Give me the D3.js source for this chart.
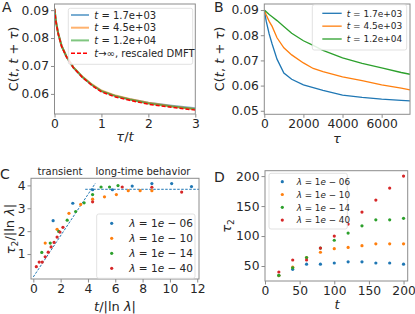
<!DOCTYPE html>
<html>
<head>
<meta charset="utf-8">
<script src="https://cdn.jsdelivr.net/npm/d3@7"></script>
<style>
  body { margin: 0; background: #fff; }
  text { font-family: "DejaVu Sans", sans-serif; fill: #262626; }
</style>
</head>
<body>
<svg id="fig" width="415" height="314"></svg>
<script>
// ---- data ----
// panel A: correlation vs tau/t
const ratioA  = [0, 0.03, 0.08, 0.15, 0.25, 0.4, 0.6, 0.8, 1.0, 1.3, 1.6, 2.0, 2.5, 3.0];
const blueA   = [0.0905, 0.0860, 0.0815, 0.0772, 0.0735, 0.0695, 0.0660, 0.0632, 0.0610, 0.0593, 0.0581, 0.0568, 0.0558, 0.0549];
const orangeA = [0.0905, 0.0860, 0.0815, 0.0773, 0.0736, 0.0696, 0.0661, 0.0634, 0.0612, 0.0594, 0.0582, 0.0568, 0.0556, 0.0546];
const greenA  = [0.0905, 0.0861, 0.0816, 0.0773, 0.0735, 0.0695, 0.0660, 0.0632, 0.0610, 0.0592, 0.0580, 0.0566, 0.0555, 0.0545];
const dmftA   = [0.0905, 0.0859, 0.0814, 0.0771, 0.0734, 0.0694, 0.0658, 0.0630, 0.0607, 0.0589, 0.0577, 0.0563, 0.0552, 0.0542];
const legendA = ["1.7e+03", "4.5e+03", "1.2e+04"];

// panel B: correlation vs tau
const tauB    = [0, 100, 250, 400, 650, 1000, 1400, 2000, 2500, 3000, 4000, 5000, 6000, 7000, 7450];
const blueB   = [0.0900, 0.0855, 0.0805, 0.0765, 0.0705, 0.0650, 0.0625, 0.0603, 0.0592, 0.0581, 0.0562, 0.0553, 0.0546, 0.0541, 0.0539];
const orangeB = [0.0900, 0.0880, 0.0855, 0.0835, 0.0790, 0.0750, 0.0722, 0.0690, 0.0668, 0.0655, 0.0635, 0.0620, 0.0603, 0.0590, 0.0583];
const greenB  = [0.0900, 0.0893, 0.0882, 0.0873, 0.0858, 0.0835, 0.0808, 0.0778, 0.0760, 0.0740, 0.0710, 0.0688, 0.0670, 0.0652, 0.0645];

// panel C: rescaled tau_2
const lambdas = ["06", "10", "14", "40"];
const cX06 = [1.45, 2.89, 4.34, 5.79, 7.24, 8.68, 10.13, 11.58];
const cY06 = [2.46, 3.22, 3.81, 3.81, 3.97, 4.08, 4.08, 3.95];
const cX10 = [0.87, 1.74, 2.61, 3.47, 4.34, 5.21, 6.08, 6.95, 7.82, 8.68];
const cY10 = [1.48, 2.08, 2.78, 3.17, 3.40, 3.50, 3.60, 3.77, 3.77, 3.77];
const cX14 = [0.62, 1.24, 1.86, 2.48, 3.10, 3.72, 4.34, 4.96, 5.58, 6.20];
const cY14 = [1.07, 1.48, 1.99, 2.48, 2.86, 3.24, 3.60, 3.93, 3.93, 3.99];
const cX40 = [0.22, 0.43, 0.65, 0.87, 1.09, 1.30, 1.52, 1.74, 1.95, 2.17, 4.34, 6.51, 8.68, 10.86];
const cY40 = [0.45, 0.65, 0.65, 0.88, 1.08, 1.31, 1.51, 1.74, 1.96, 2.17, 3.28, 3.93, 3.92, 3.71];
const transientLine = [[0, 0], [4.55, 4.1]];
const plateauLine   = [[3.8, 3.83], [12.2, 3.83]];

// panel D: tau_2 vs t
const tD      = [20, 40, 60, 80, 100, 120, 140, 160, 180, 200];
const dBlue   = [34, 44.5, 53, 53, 55, 57, 57, 55, 55, 53];
const dOrange = [34, 48, 64, 73, 79, 81, 84, 87, 87, 87];
const dGreen  = [34.5, 47, 64, 80, 93, 105, 117, 127, 127, 129.5];
const dRed    = [40, 60, 60, 80, 100, 120, 140, 160, 180, 200];

const colors = ["#1f77b4", "#ff7f0e", "#2ca02c", "#d62728"];
const spineColor = "#8c8c8c";

var svg = d3.select("#fig");

function panel(box, xDom, yDom, xTicks, yTicks, fx, fy) {
  var x = d3.scaleLinear().domain(xDom).range([box.l, box.r]);
  var y = d3.scaleLinear().domain(yDom).range([box.b, box.t]);
  var g = svg.append("g");
  var clipId = "clip" + Math.round(box.l) + "_" + Math.round(box.t);
  svg.append("clipPath").attr("id", clipId)
    .append("rect").attr("x", box.l).attr("y", box.t)
    .attr("width", box.r - box.l).attr("height", box.b - box.t);
  var plot = g.append("g").attr("clip-path", "url(#" + clipId + ")");

  var ax = g.append("g").attr("transform", "translate(0," + box.b + ")")
    .call(d3.axisBottom(x).tickValues(xTicks).tickFormat(fx).tickSize(3.5).tickPadding(1.5));
  var ay = g.append("g").attr("transform", "translate(" + box.l + ",0)")
    .call(d3.axisLeft(y).tickValues(yTicks).tickFormat(fy).tickSize(3.5).tickPadding(2));
  [ax, ay].forEach(function(a) {
    a.select(".domain").remove();
    a.selectAll("line").attr("stroke", spineColor);
    a.selectAll("text").style("font-size", "12.3px").attr("fill", "#262626");
  });
  g.append("rect").attr("x", box.l).attr("y", box.t)
    .attr("width", box.r - box.l).attr("height", box.b - box.t)
    .attr("fill", "none").attr("stroke", spineColor).attr("stroke-width", 1);
  return {g: g, plot: plot, x: x, y: y};
}

function mathLabel(sel, parts) {
  // parts: [text, italic?, sub?, undoSub?]
  parts.forEach(function(p) {
    var t = sel.append("tspan").text(p[0]);
    if (p[1]) t.style("font-style", "italic");
    if (p[2]) t.style("font-size", "0.7em").attr("dy", "0.3em");
    if (p[3]) t.attr("dy", "-0.3em");
  });
  return sel;
}

function legendBox(x0, y0, w, h) {
  svg.append("rect").attr("x", x0).attr("y", y0).attr("width", w).attr("height", h)
    .attr("rx", 2).attr("fill", "#fff").attr("fill-opacity", 0.85)
    .attr("stroke", "#d9d9d9").attr("stroke-width", 0.8);
}

var line = d3.line();

// ---------- Panel A ----------
var A = panel({l: 54.5, r: 195.3, t: 4, b: 114}, [0, 3], [0.0528, 0.0922],
  [0, 1, 2, 3], [0.06, 0.07, 0.08, 0.09], d3.format("d"), d3.format(".2f"));
[blueA, orangeA, greenA].forEach(function(s, i) {
  A.plot.append("path")
    .attr("d", line(ratioA.map(function(r, k) { return [A.x(r), A.y(s[k])]; })))
    .attr("fill", "none").attr("stroke", colors[i]).attr("stroke-width", 2).attr("stroke-opacity", 0.6);
});
A.plot.append("path")
  .attr("d", line(ratioA.map(function(r, k) { return [A.x(r), A.y(dmftA[k])]; })))
  .attr("fill", "none").attr("stroke", "red").attr("stroke-width", 1.5)
  .attr("stroke-dasharray", "4,2");

legendBox(68.3, 8.3, 124.4, 56);
legendA.forEach(function(lab, i) {
  var yy = 15 + i * 12.7;
  svg.append("line").attr("x1", 71).attr("x2", 89).attr("y1", yy).attr("y2", yy)
    .attr("stroke", colors[i]).attr("stroke-width", 2).attr("stroke-opacity", 0.6);
  mathLabel(svg.append("text").attr("x", 94.3).attr("y", yy + 3.5).style("font-size", "10px"),
    [["t", true], [" = " + lab]]);
});
svg.append("line").attr("x1", 71).attr("x2", 89).attr("y1", 53.3).attr("y2", 53.3)
  .attr("stroke", "red").attr("stroke-width", 1.5).attr("stroke-dasharray", "4,2");
mathLabel(svg.append("text").attr("x", 94.3).attr("y", 56.8).style("font-size", "10px"),
  [["t", true], ["\u2192\u221e, rescaled DMFT"]]);

svg.append("text").attr("x", 125).attr("y", 141).attr("text-anchor", "middle").style("font-size", "13px")
  .call(mathLabel, [["\u03c4", true], ["/"], ["t", true]]);
svg.append("text").attr("transform", "translate(18,59) rotate(-90)").attr("text-anchor", "middle")
  .style("font-size", "13px")
  .call(mathLabel, [["C("], ["t", true], [", "], ["t", true], [" + "], ["\u03c4", true], [")"]]);
svg.append("text").attr("x", 2).attr("y", 12).style("font-size", "14px").text("A");

// ---------- Panel B ----------
var B = panel({l: 264.3, r: 410, t: 4, b: 114.3}, [0, 7450], [0.0486, 0.0924],
  [0, 2000, 4000, 6000], [0.05, 0.06, 0.07, 0.08, 0.09], d3.format("d"), d3.format(".2f"));
[blueB, orangeB, greenB].forEach(function(s, i) {
  B.plot.append("path")
    .attr("d", line(tauB.map(function(r, k) { return [B.x(r), B.y(s[k])]; })))
    .attr("fill", "none").attr("stroke", colors[i]).attr("stroke-width", 1.3);
});
legendBox(312.3, 4.7, 94.4, 45.3);
legendA.forEach(function(lab, i) {
  var yy = 13.3 + i * 12.85;
  svg.append("line").attr("x1", 322.3).attr("x2", 341.7).attr("y1", yy).attr("y2", yy)
    .attr("stroke", colors[i]).attr("stroke-width", 1.3);
  mathLabel(svg.append("text").attr("x", 346.7).attr("y", yy + 3.3).style("font-size", "9px"),
    [["t", true], [" = " + lab]]);
});
svg.append("text").attr("x", 337).attr("y", 142.5).attr("text-anchor", "middle").style("font-size", "13px")
  .call(mathLabel, [["\u03c4", true]]);
svg.append("text").attr("transform", "translate(224,59) rotate(-90)").attr("text-anchor", "middle")
  .style("font-size", "13px")
  .call(mathLabel, [["C("], ["t", true], [", "], ["t", true], [" + "], ["\u03c4", true], [")"]]);
svg.append("text").attr("x", 214).attr("y", 12).style("font-size", "14px").text("B");

// ---------- Panel C ----------
var C = panel({l: 31, r: 199, t: 178.3, b: 279}, [-0.17, 12.13], [-0.09, 4.31],
  [0, 2, 4, 6, 8, 10, 12], [1, 2, 3, 4], d3.format("d"), d3.format("d"));
[transientLine, plateauLine].forEach(function(seg) {
  C.plot.append("path").attr("d", line(seg.map(function(p) { return [C.x(p[0]), C.y(p[1])]; })))
    .attr("fill", "none").attr("stroke", colors[0]).attr("stroke-width", 1).attr("stroke-dasharray", "2.5,1.5");
});
[[cX06, cY06], [cX10, cY10], [cX14, cY14], [cX40, cY40]].forEach(function(s, i) {
  C.plot.selectAll(null).data(s[0]).enter().append("circle")
    .attr("cx", function(d) { return C.x(d); })
    .attr("cy", function(d, k) { return C.y(s[1][k]); })
    .attr("r", 1.6).attr("fill", colors[i]);
});
legendBox(96.7, 214, 98.3, 64.3);
lambdas.forEach(function(l, i) {
  var yy = 223.3 + i * 15;
  svg.append("circle").attr("cx", 111.7).attr("cy", yy).attr("r", 1.6).attr("fill", colors[i]);
  mathLabel(svg.append("text").attr("x", 129.3).attr("y", yy + 3.8).style("font-size", "10.5px"),
    [["\u03bb", true], [" = 1"], ["e", true], [" \u2212 " + l]]);
});
svg.append("text").attr("x", 60).attr("y", 175).attr("text-anchor", "middle").style("font-size", "10px").text("transient");
svg.append("text").attr("x", 143).attr("y", 175).attr("text-anchor", "middle").style("font-size", "10px").text("long-time behavior");
svg.append("text").attr("x", 115).attr("y", 311).attr("text-anchor", "middle").style("font-size", "13px")
  .call(mathLabel, [["t", true], ["/|ln "], ["\u03bb", true], ["|"]]);
svg.append("text").attr("transform", "translate(15,229) rotate(-90)").attr("text-anchor", "middle")
  .style("font-size", "13px")
  .call(mathLabel, [["\u03c4", true], ["2", false, true], ["/|ln ", false, false, true], ["\u03bb", true], ["|"]]);
svg.append("text").attr("x", 0).attr("y", 179).style("font-size", "14px").text("C");

// ---------- Panel D ----------
var D = panel({l: 265, r: 407.7, t: 170.7, b: 281}, [0, 206], [25, 209],
  [0, 50, 100, 150, 200], [50, 100, 150, 200], d3.format("d"), d3.format("d"));
[dBlue, dOrange, dGreen, dRed].forEach(function(s, i) {
  D.plot.selectAll(null).data(tD).enter().append("circle")
    .attr("cx", function(d) { return D.x(d); })
    .attr("cy", function(d, k) { return D.y(s[k]); })
    .attr("r", 1.6).attr("fill", colors[i]);
});
legendBox(269, 173.3, 78.3, 55.7);
lambdas.forEach(function(l, i) {
  var yy = 181.7 + i * 12.8;
  svg.append("circle").attr("cx", 282.3).attr("cy", yy).attr("r", 1.6).attr("fill", colors[i]);
  mathLabel(svg.append("text").attr("x", 296.7).attr("y", yy + 3.3).style("font-size", "8.8px"),
    [["\u03bb", true], [" = 1"], ["e", true], [" \u2212 " + l]]);
});
svg.append("text").attr("x", 337).attr("y", 309).attr("text-anchor", "middle").style("font-size", "13px")
  .call(mathLabel, [["t", true]]);
svg.append("text").attr("transform", "translate(231,226) rotate(-90)").attr("text-anchor", "middle")
  .style("font-size", "13px")
  .call(mathLabel, [["\u03c4", true], ["2", false, true]]);
svg.append("text").attr("x", 214).attr("y", 182).style("font-size", "14px").text("D");
</script>
</body>
</html>
